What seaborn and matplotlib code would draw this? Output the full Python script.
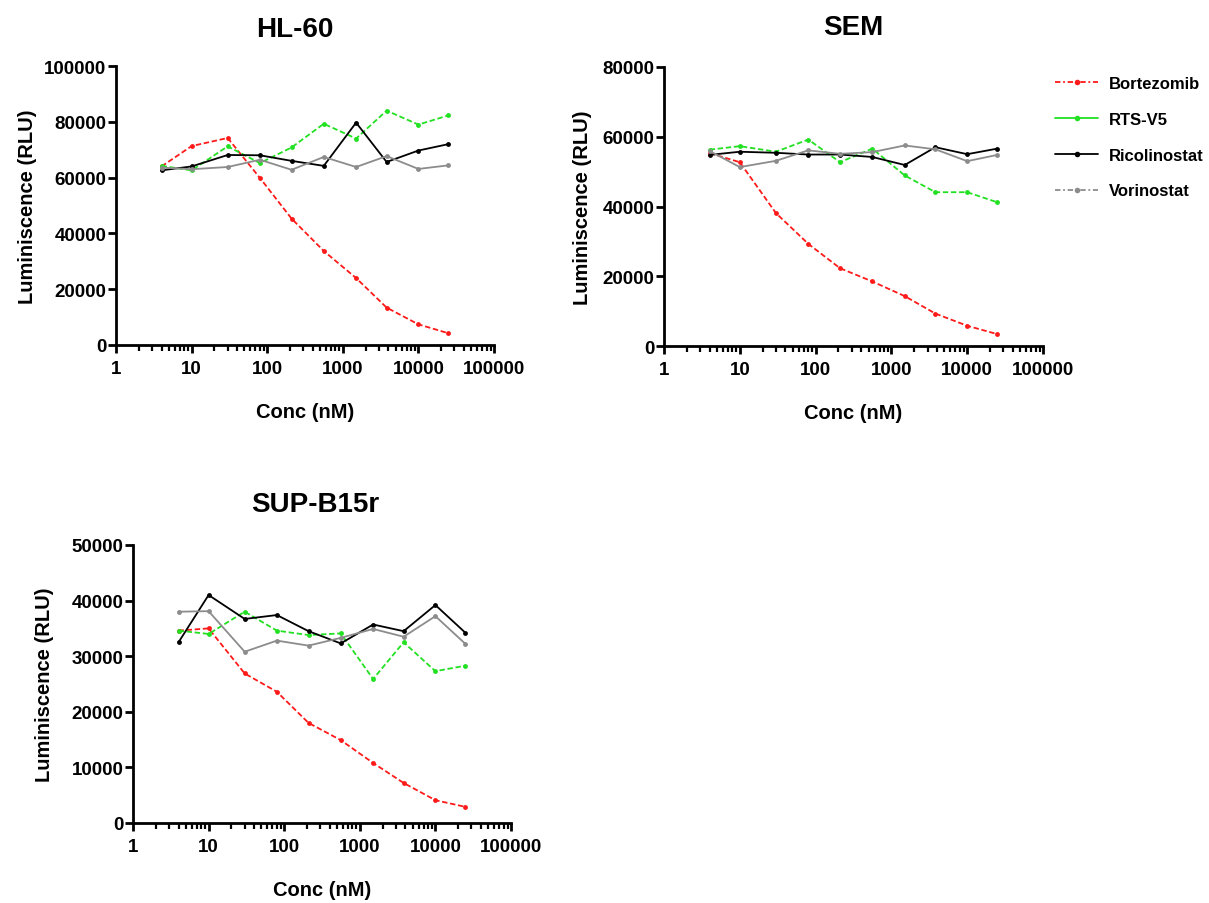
import matplotlib
matplotlib.use("Agg")
import matplotlib.pyplot as plt
from matplotlib.lines import Line2D
from matplotlib.ticker import LogLocator, NullFormatter, FixedLocator, FixedFormatter
import seaborn as sns
import pandas as pd
import numpy as np

conc = [4, 10, 30, 80, 210, 560, 1500, 3800, 10000, 25000]
drugs = ["Bortezomib", "RTS-V5", "Ricolinostat", "Vorinostat"]

hl60_bortezomib = [64000, 71300, 74200, 59900, 45300, 33700, 24000, 13400, 7400, 4200]
hl60_rtsv5 = [64200, 62600, 71200, 65200, 70800, 79300, 74000, 84000, 79000, 82300]
hl60_ricolinostat = [62600, 64000, 68100, 68000, 66000, 64200, 79700, 65600, 69700, 72000]
hl60_vorinostat = [63600, 63000, 63800, 66400, 62800, 67400, 63800, 67700, 63100, 64400]

sem_bortezomib = [55300, 52700, 38100, 29300, 22300, 18500, 14300, 9300, 5800, 3400]
sem_rtsv5 = [56300, 57300, 55700, 59200, 52700, 56600, 48900, 44100, 44100, 41200]
sem_ricolinostat = [54800, 55700, 55400, 54900, 54900, 54200, 51900, 57000, 55000, 56600]
sem_vorinostat = [55900, 51300, 53100, 56100, 55100, 55600, 57500, 56400, 53000, 54800]

sup_bortezomib = [34600, 35000, 26900, 23600, 18000, 14900, 10800, 7200, 4100, 2900]
sup_rtsv5 = [34600, 34000, 38000, 34600, 33800, 34100, 25900, 32500, 27300, 28300]
sup_ricolinostat = [32500, 41000, 36700, 37400, 34500, 32300, 35700, 34500, 39200, 34200]
sup_vorinostat = [38000, 38100, 30800, 32800, 31900, 33300, 34900, 33500, 37200, 32200]

panels = [
    ("HL-60", [hl60_bortezomib, hl60_rtsv5, hl60_ricolinostat, hl60_vorinostat], 100000, 20000),
    ("SEM", [sem_bortezomib, sem_rtsv5, sem_ricolinostat, sem_vorinostat], 80000, 20000),
    ("SUP-B15r", [sup_bortezomib, sup_rtsv5, sup_ricolinostat, sup_vorinostat], 50000, 10000),
]

colors = {"Bortezomib": "#ff1a1a", "RTS-V5": "#22e022", "Ricolinostat": "#000000", "Vorinostat": "#8c8c8c"}
dashes = {"Bortezomib": (3, 1.5), "RTS-V5": (3, 1.5), "Ricolinostat": "", "Vorinostat": ""}

sns.set_style("ticks")
plt.rcParams['font.family'] = ['Liberation Sans', 'DejaVu Sans']
plt.rcParams['font.weight'] = 'bold'
for k in ["text.color", "axes.labelcolor", "xtick.color", "ytick.color", "axes.edgecolor"]:
    plt.rcParams[k] = "black"

W, H = 1209, 904
fig = plt.figure(figsize=(W / 100, H / 100), dpi=100)

# axes rectangles in pixels: left, top, right, bottom
rects = [(116, 67, 494, 346), (664, 68, 1043, 347), (133, 546, 511, 824)]
title_pos = [(295, 30), (853, 28), (315, 505)]
ylabel_x = [28, 583, 45]

for (title, series, ymax, ystep), (l, t, r, b), (tx, ty), yx in zip(panels, rects, title_pos, ylabel_x):
    ax = fig.add_axes([l / W, 1 - b / H, (r - l) / W, (b - t) / H])
    rows = []
    for d, vals in zip(drugs, series):
        for c, v in zip(conc, vals):
            rows.append({"Conc": c, "RLU": v, "Drug": d})
    df = pd.DataFrame(rows)
    sns.lineplot(data=df, x="Conc", y="RLU", hue="Drug", style="Drug",
                 palette=colors, dashes=dashes, markers={d: "o" for d in drugs},
                 markersize=3.5, markeredgewidth=0, linewidth=1.3, ax=ax, legend=False)
    ax.set_xscale("log")
    ax.set_xlim(1, 100000)
    ax.set_ylim(0, ymax)
    ax.xaxis.set_major_locator(FixedLocator([1, 10, 100, 1000, 10000, 100000]))
    ax.xaxis.set_major_formatter(FixedFormatter(["1", "10", "100", "1000", "10000", "100000"]))
    ax.xaxis.set_minor_locator(LogLocator(base=10, subs=np.arange(2, 10)))
    ax.xaxis.set_minor_formatter(NullFormatter())
    ax.set_yticks(np.arange(0, ymax + 1, ystep))
    ax.set_yticklabels([str(int(v)) for v in np.arange(0, ymax + 1, ystep)])
    sns.despine(ax=ax)
    for s in ["left", "bottom"]:
        ax.spines[s].set_linewidth(2.0)
    ax.tick_params(axis="y", which="major", direction="out", length=6, width=2.0,
                   labelsize=13.5, pad=1)
    ax.tick_params(axis="x", which="major", direction="out", length=6, width=2.0,
                   labelsize=13.5, pad=5)
    ax.tick_params(axis="x", which="minor", direction="out", length=4, width=1.6)
    for lab in ax.get_xticklabels() + ax.get_yticklabels():
        lab.set_fontweight("bold")
    ax.set_xlabel("")
    ax.set_ylabel("")
    cx = (l + r) / 2
    fig.text(tx / W, 1 - ty / H, title, ha="center", va="center",
             fontsize=20, fontweight="bold")
    fig.text(cx / W, 1 - (b + 67) / H, "Conc (nM)", ha="center", va="center",
             fontsize=14.5, fontweight="bold")
    fig.text(yx / W, 1 - (t + b) / 2 / H, "Luminiscence (RLU)", ha="center", va="center",
             rotation=90, fontsize=14.5, fontweight="bold")

handles = [
    Line2D([], [], color=colors["Bortezomib"], linestyle=(0, (3, 1.5, 1, 1.5)), marker="o",
           markersize=4, markeredgewidth=0, linewidth=1.3),
    Line2D([], [], color=colors["RTS-V5"], linestyle="-", marker="o",
           markersize=4, markeredgewidth=0, linewidth=1.3),
    Line2D([], [], color=colors["Ricolinostat"], linestyle="-", marker="o",
           markersize=4, markeredgewidth=0, linewidth=1.3),
    Line2D([], [], color=colors["Vorinostat"], linestyle=(0, (3, 1.5, 1, 1.5)), marker="o",
           markersize=4, markeredgewidth=0, linewidth=1.3),
]
leg = fig.legend(handles, drugs, loc="upper left", bbox_to_anchor=(1055 / W, 1 - 77 / H),
                 frameon=False, fontsize=12, labelspacing=1.25, handlelength=2.6,
                 handletextpad=0.65, borderaxespad=0, borderpad=0)
for txt in leg.get_texts():
    txt.set_fontweight("bold")

fig.savefig("out.png", dpi=100)
